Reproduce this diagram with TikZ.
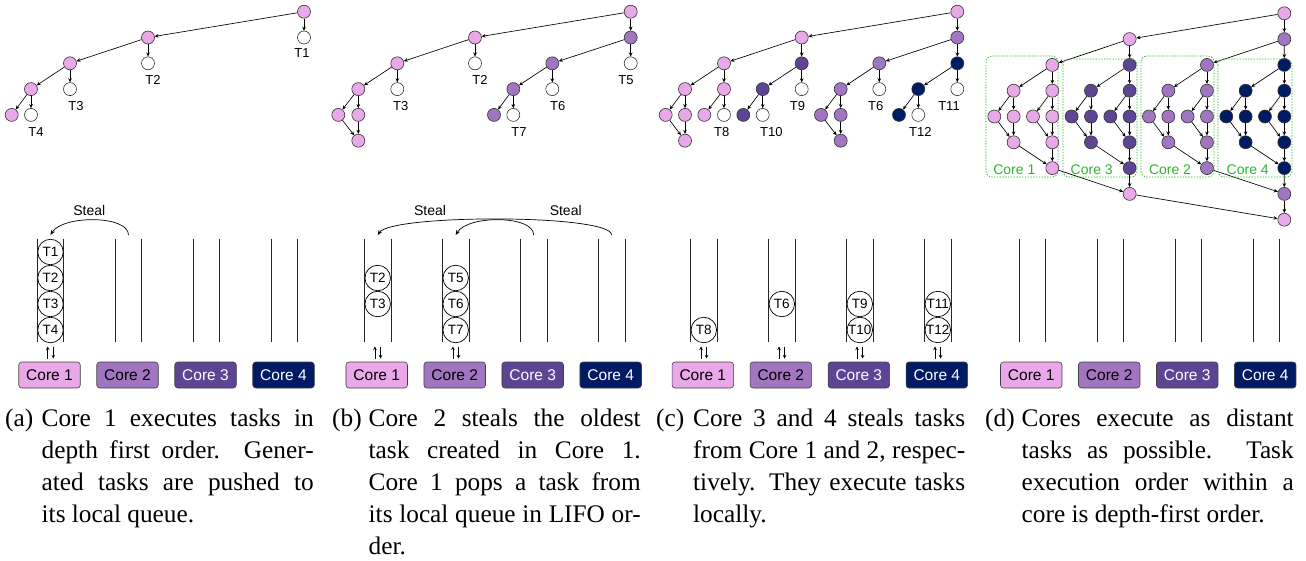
\documentclass[tikz,border=0pt]{standalone}
\usepackage{fontspec}
\setmainfont{Liberation Serif}
\setsansfont{Liberation Sans}
\usetikzlibrary{arrows.meta}

\definecolor{corea}{RGB}{233,168,232}
\definecolor{coreb}{RGB}{161,117,192}
\definecolor{corec}{RGB}{93,69,148}
\definecolor{cored}{RGB}{0,26,100}
\definecolor{grpgreen}{RGB}{45,180,45}

\newcommand\capfont{\rmfamily\fontsize{25.3}{31.9}\selectfont}
\newcommand\capj[1]{\hbox to 272pt{#1}}
\newcommand\capl[1]{\hbox{#1}}

\tikzset{
  tnode/.style={circle, draw=black!80, line width=0.6pt, minimum size=13pt, inner sep=0pt},
  p1/.style={tnode, fill=corea},
  p2/.style={tnode, fill=coreb},
  p3/.style={tnode, fill=corec},
  p4/.style={tnode, fill=cored},
  tw/.style={tnode, fill=white},
  tedge/.style={-{Stealth[length=4pt,width=3.6pt]}, line width=0.65pt},
  tlab/.style={font=\sffamily\fontsize{13}{13}\selectfont, inner sep=0pt},
  qtask/.style={circle, draw=black, line width=0.7pt, fill=white, minimum size=25.5pt,
    inner sep=0pt, font=\sffamily\fontsize{13.5}{13.5}\selectfont},
  qwall/.style={line width=0.8pt, draw=black!85},
  corebox/.style={draw=black!75, line width=0.6pt, rounded corners=3pt, minimum width=61.5pt,
    minimum height=26pt, inner sep=0pt, font=\sffamily\fontsize{15.5}{15.5}\selectfont},
  steal/.style={-{Stealth[length=5pt,width=4pt]}, line width=0.7pt},
  iobar/.style={-{Stealth[length=3.5pt,width=3.5pt]}, line width=0.7pt},
  grp/.style={draw=grpgreen, line width=0.7pt, dash pattern=on 1.4pt off 1.4pt, rounded corners=6pt},
  grplab/.style={text=grpgreen, font=\sffamily\fontsize{14}{14}\selectfont, inner sep=0pt},
  steallab/.style={font=\sffamily\fontsize{14}{14}\selectfont, inner sep=0pt},
  captag/.style={anchor=base west, inner sep=0pt, font=\capfont},
}

\begin{document}
\begin{tikzpicture}[x=1pt,y=-1pt]
\useasboundingbox (0,0) rectangle (1306,560);

% ---------------- task trees ----------------
% (a)
\node[p1] (a0) at (304,11.7) {};
\node[p1] (a1) at (148,37.5) {};
\node[tw] (aT1) at (304,37.5) {};
\node[p1] (a2) at (70,63.3) {};
\node[tw] (aT2) at (148,63.3) {};
\node[p1] (a3) at (31,89.1) {};
\node[tw] (aT3) at (70,89.1) {};
\node[p1] (a4) at (11.7,114.9) {};
\node[tw] (aT4) at (31,114.9) {};
\foreach \s/\e in {a0/a1,a0/aT1,a1/a2,a1/aT2,a2/a3,a2/aT3,a3/a4,a3/aT4}
  \draw[tedge] (\s) -- (\e);
\node[tlab] (laT1) at (302,53.5) {T1};
\node[tlab] (laT2) at (153,80) {T2};
\node[tlab] (laT3) at (76,106) {T3};
\node[tlab] (laT4) at (36,131.9) {T4};

% (b)
\node[p1] (b0) at (630.7,11.7) {};
\node[p1] (b1) at (475,37.5) {};
\node[p2] (bP1) at (630.7,37.5) {};
\node[p1] (b2) at (397.3,63.3) {};
\node[tw] (bT2) at (475,63.3) {};
\node[p2] (bP2) at (552.3,63.3) {};
\node[tw] (bT5) at (630.7,63.3) {};
\node[p1] (b3) at (358.3,89.1) {};
\node[tw] (bT3) at (397.3,89.1) {};
\node[p2] (bP3) at (513.3,89.1) {};
\node[tw] (bT6) at (552.3,89.1) {};
\node[p1] (b4a) at (338.3,114.9) {};
\node[p1] (b4b) at (358.3,114.9) {};
\node[p2] (bP4) at (494,114.9) {};
\node[tw] (bT7) at (513.3,114.9) {};
\node[p1] (b5) at (358.3,140.7) {};
\foreach \s/\e in {b0/b1,b0/bP1,b1/b2,b1/bT2,bP1/bP2,bP1/bT5,b2/b3,b2/bT3,bP2/bP3,bP2/bT6,
                   b3/b4a,b3/b4b,bP3/bP4,bP3/bT7,b4a/b5,b4b/b5}
  \draw[tedge] (\s) -- (\e);
\node[tlab] (lbT2) at (480,80) {T2};
\node[tlab] (lbT5) at (626,80) {T5};
\node[tlab] (lbT3) at (400.7,106) {T3};
\node[tlab] (lbT6) at (557.7,106) {T6};
\node[tlab] (lbT7) at (519,131.9) {T7};

% (c)
\node[p1] (c0) at (957.3,11.7) {};
\node[p1] (cA1) at (801.7,37.5) {};
\node[p2] (cB1) at (957.3,37.5) {};
\node[p1] (cA2) at (724,63.3) {};
\node[p3] (cC2) at (801.7,63.3) {};
\node[p2] (cB2) at (879.3,63.3) {};
\node[p4] (cD2) at (957.3,63.3) {};
\node[p1] (cA3) at (685,89.1) {};
\node[p1] (cA3b) at (724,89.1) {};
\node[p3] (cC3) at (762.7,89.1) {};
\node[tw] (cT9) at (801.7,89.1) {};
\node[p2] (cB3) at (840.7,89.1) {};
\node[tw] (cT6) at (879.3,89.1) {};
\node[p4] (cD3) at (918.3,89.1) {};
\node[tw] (cT11) at (957.3,89.1) {};
\node[p1] (cA4a) at (665.7,114.9) {};
\node[p1] (cA4b) at (685,114.9) {};
\node[p1] (cA4c) at (704.3,114.9) {};
\node[tw] (cT8) at (724,114.9) {};
\node[p3] (cC4) at (743.3,114.9) {};
\node[tw] (cT10) at (762.7,114.9) {};
\node[p2] (cB4a) at (821,114.9) {};
\node[p2] (cB4b) at (840.7,114.9) {};
\node[p4] (cD4) at (899,114.9) {};
\node[tw] (cT12) at (918.3,114.9) {};
\node[p1] (cA5) at (685,140.7) {};
\node[p2] (cB5) at (840.7,140.7) {};
\foreach \s/\e in {c0/cA1,c0/cB1,cA1/cA2,cA1/cC2,cB1/cB2,cB1/cD2,cA2/cA3,cA2/cA3b,
                   cC2/cC3,cC2/cT9,cB2/cB3,cB2/cT6,cD2/cD3,cD2/cT11,cA3/cA4a,cA3/cA4b,
                   cA3b/cA4c,cA3b/cT8,cC3/cC4,cC3/cT10,cB3/cB4a,cB3/cB4b,cD3/cD4,cD3/cT12,
                   cA4a/cA5,cA4b/cA5,cB4a/cB5,cB4b/cB5}
  \draw[tedge] (\s) -- (\e);
\node[tlab] (lcT9) at (797.5,106) {T9};
\node[tlab] (lcT6) at (875.7,106) {T6};
\node[tlab] (lcT11) at (949,106) {T11};
\node[tlab] (lcT8) at (721.7,131.9) {T8};
\node[tlab] (lcT10) at (771.3,131.9) {T10};
\node[tlab] (lcT12) at (920.3,131.9) {T12};

% (d) full fork-join tree, leaves at x = 994.3 + 19.333 i
\node[p1] (d0-15) at (1284.3,13.3) {};
\node[p1] (d1-7) at ({994.3+19.333*7},39.1) {};
\node[p2] (d1-15) at (1284.3,39.1) {};
\foreach \i/\fc in {3/corea,7/corec,11/coreb,15/cored}{
  \node[tnode, fill=\fc] (d2-\i) at ({994.3+19.333*\i},64.9) {};
  \node[tnode, fill=\fc] (d6-\i) at ({994.3+19.333*\i},168.1) {};
}
\foreach \i in {0,...,15}{
  \pgfmathtruncatemacro{\g}{int(\i/4)}
  \ifcase\g \def\fc{corea}\or \def\fc{corec}\or \def\fc{coreb}\or \def\fc{cored}\fi
  \node[tnode, fill=\fc] (d4-\i) at ({994.3+19.333*\i},116.5) {};
  \ifodd\i
    \node[tnode, fill=\fc] (d3-\i) at ({994.3+19.333*\i},90.7) {};
    \node[tnode, fill=\fc] (d5-\i) at ({994.3+19.333*\i},142.3) {};
  \fi
}
\node[p1] (d7-7) at ({994.3+19.333*7},193.9) {};
\node[p2] (d7-15) at (1284.3,193.9) {};
\node[p1] (d8-15) at (1284.3,219.7) {};

\foreach \s/\e in {d0-15/d1-7,d0-15/d1-15,d1-7/d2-3,d1-7/d2-7,d1-15/d2-11,d1-15/d2-15,
                   d6-3/d7-7,d6-7/d7-7,d6-11/d7-15,d6-15/d7-15,d7-7/d8-15,d7-15/d8-15}
  \draw[tedge] (\s) -- (\e);
\foreach \j in {3,7,11,15}{
  \pgfmathtruncatemacro{\jm}{\j-2}
  \draw[tedge] (d2-\j) -- (d3-\jm);
  \draw[tedge] (d2-\j) -- (d3-\j);
  \draw[tedge] (d5-\jm) -- (d6-\j);
  \draw[tedge] (d5-\j) -- (d6-\j);
}
\foreach \j in {1,3,...,15}{
  \pgfmathtruncatemacro{\jm}{\j-1}
  \draw[tedge] (d3-\j) -- (d4-\jm);
  \draw[tedge] (d3-\j) -- (d4-\j);
  \draw[tedge] (d4-\jm) -- (d5-\j);
  \draw[tedge] (d4-\j) -- (d5-\j);
}

% per-core regions of the tree
\draw[grp] (986,56) rectangle (1058,177);
\draw[grp] (1063,59) rectangle (1137,177);
\draw[grp] (1141,56) rectangle (1214,177);
\draw[grp] (1218,59) rectangle (1292,177);
\node[grplab] (g1) at (1014.3,169.3) {Core 1};
\node[grplab] (g3) at (1091.7,169.3) {Core 3};
\node[grplab] (g2) at (1170,169.3) {Core 2};
\node[grplab] (g4) at (1247.7,169.3) {Core 4};

% ---------------- cores and their local queues ----------------
\foreach \p/\ox in {a/0,b/327.2,c/653.3,d/981.7}{
  \foreach \k/\fc/\tc in {1/corea/black,2/coreb/black,3/corec/white,4/cored/white}{
    \pgfmathsetmacro{\qx}{\ox+50.5+78*(\k-1)}
    \pgfmathsetmacro{\bx}{\ox+49.5+78*(\k-1)}
    \node[corebox, fill=\fc, text=\tc] (box-\p\k) at (\bx,375) {Core \k};
    \draw[qwall] (\qx-13.2,238.5) -- (\qx-13.2,342);
    \draw[qwall] (\qx+13.2,238.5) -- (\qx+13.2,342);
    \coordinate (qtop-\p\k) at (\qx,235);
    \coordinate (ioUs-\p\k) at (\qx-2.8,358.5);
    \coordinate (ioUe-\p\k) at (\qx-2.8,346.5);
    \coordinate (ioDs-\p\k) at (\qx+2.8,346.5);
    \coordinate (ioDe-\p\k) at (\qx+2.8,358.5);
  }
}

% push / pop arrows
\foreach \q in {a1,b1,b2,c1,c2,c3,c4}{
  \draw[iobar] (ioUs-\q) -- (ioUe-\q);
  \draw[iobar] (ioDs-\q) -- (ioDe-\q);
}

% queued tasks
\node[qtask] (qaT1) at (50.5,252) {T1};
\node[qtask] (qaT2) at (50.5,278) {T2};
\node[qtask] (qaT3) at (50.5,304) {T3};
\node[qtask] (qaT4) at (50.5,330) {T4};
\node[qtask] (qbT2) at (377.7,278) {T2};
\node[qtask] (qbT3) at (377.7,304) {T3};
\node[qtask] (qbT5) at (455.7,278) {T5};
\node[qtask] (qbT6) at (455.7,304) {T6};
\node[qtask] (qbT7) at (455.7,330) {T7};
\node[qtask] (qcT8) at (703.8,330) {T8};
\node[qtask] (qcT6) at (781.8,304) {T6};
\node[qtask] (qcT9) at (859.8,304) {T9};
\node[qtask] (qcT10) at (859.8,330) {T10};
\node[qtask] (qcT11) at (937.8,304) {T11};
\node[qtask] (qcT12) at (937.8,330) {T12};

% steals
\draw[steal] (qtop-a2) .. controls +(0,-20) and +(12,-20) .. (qtop-a1);
\node[steallab] (sa) at (89.3,210) {Steal};
\draw[steal] (qtop-b3) .. controls +(0,-20) and +(12,-20) .. (qtop-b2);
\draw[steal] (qtop-b4) .. controls +(0,-21) and +(14,-21) .. (qtop-b1);
\node[steallab] (sb1) at (430,210) {Steal};
\node[steallab] (sb2) at (565.7,210) {Steal};

% ---------------- captions ----------------
\node[captag] (tag-a) at (5,426.7) {(a)};
\node[captag] (cap-a) at (41.5,426.7) {\vtop{%
  \capj{Core 1 executes tasks in}
  \capj{depth first order. Gener-}
  \capj{ated tasks are pushed to}
  \capl{its local queue.}}};
\node[captag] (tag-b) at (332,426.7) {(b)};
\node[captag] (cap-b) at (368.5,426.7) {\vtop{%
  \capj{Core 2 steals the oldest}
  \capj{task created in Core 1.}
  \capj{Core 1 pops a task from}
  \capj{its local queue in LIFO or-}
  \capl{der.}}};
\node[captag] (tag-c) at (656,426.7) {(c)};
\node[captag] (cap-c) at (693,426.7) {\vtop{%
  \capj{Core 3 and 4 steals tasks}
  \capj{from Core 1 and 2, respec-}
  \capj{tively. They execute tasks}
  \capl{locally.}}};
\node[captag] (tag-d) at (985,426.7) {(d)};
\node[captag] (cap-d) at (1021.5,426.7) {\vtop{%
  \capj{Cores execute as distant}
  \capj{tasks as possible. Task}
  \capj{execution order within a}
  \capl{core is depth-first order.}}};
\end{tikzpicture}
\end{document}
